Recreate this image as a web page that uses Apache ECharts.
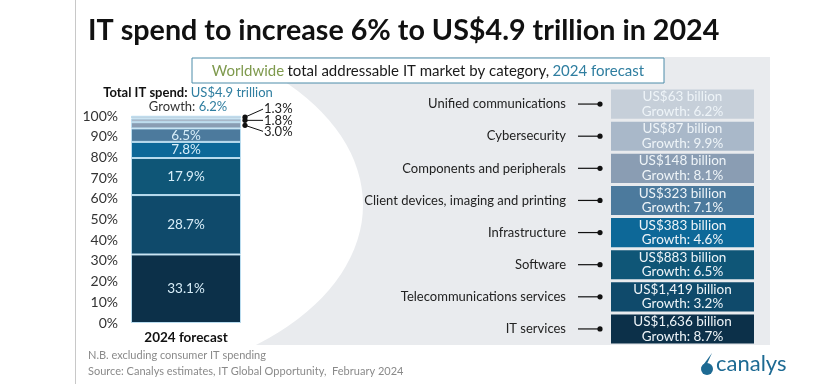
<!DOCTYPE html>
<html>
<head>
<meta charset="utf-8">
<script src="https://cdn.jsdelivr.net/npm/echarts@6/dist/echarts.min.js"></script>
<style>html,body{margin:0;padding:0;background:#fff}#c{width:840px;height:384px}</style>
</head>
<body>
<div id="c"></div>
<script>
// ---- data ----
const categories = ['Unified communications','Cybersecurity','Components and peripherals','Client devices, imaging and printing','Infrastructure','Software','Telecommunications services','IT services'];
const spendBillion = [63, 87, 148, 323, 383, 883, 1419, 1636];
const growthPct = [6.2, 9.9, 8.1, 7.1, 4.6, 6.5, 3.2, 8.7];
const sharePct = [1.3, 1.8, 3.0, 6.5, 7.8, 17.9, 28.7, 33.1];
const categoryColors = ['#c6cfd9','#a9b8c9','#8a9db3','#4c7a9d','#0d6898','#0f5677','#0f4a6b','#0c3049'];
const barCategory = ['2024 forecast'];
const percentTicks = [0,10,20,30,40,50,60,70,80,90,100];
const totalSpend = 'US$4.9 trillion';
const totalGrowth = '6.2%';

const FONT = 'Lato';
const chart = echarts.init(document.getElementById('c'), null, {renderer:'canvas'});

// stacked series bottom-up
const stackSeries = [];
for (let i = categories.length - 1; i >= 0; i--) {
  stackSeries.push({
    type: 'bar', name: categories[i], stack: 'total', xAxisIndex: 0, yAxisIndex: 0,
    data: [sharePct[i]], barWidth: '100%',
    itemStyle: {color: categoryColors[i], borderColor: '#b9dcef', borderWidth: 1},
    label: {show: sharePct[i] >= 5, position: 'inside', color: '#d8eef9', fontFamily: FONT, fontSize: 13.5,
      formatter: p => p.value.toFixed(1) + '%'}
  });
}
// small segments leader labels
const smallIdx = [];
sharePct.forEach((v, i) => { if (v < 5) smallIdx.push(i); });
function cumMid(i) {
  let s = 0;
  for (let k = categories.length - 1; k > i; k--) s += sharePct[k];
  return s + sharePct[i] / 2;
}
const labelShift = [-8, 0, 6];
const leaderSeries = {
  type: 'custom', xAxisIndex: 0, yAxisIndex: 0, z: 5,
  data: smallIdx.map(i => [0, cumMid(i), sharePct[i]]),
  renderItem: (params, api) => {
    const p = api.coord([api.value(0), api.value(1)]);
    const band = api.size([1, 0])[0];
    const x0 = p[0] + band / 2 + 4;
    const ly = p[1] + labelShift[params.dataIndex];
    return {type: 'group', children: [
      {type: 'circle', shape: {cx: x0, cy: p[1], r: 2.6}, style: {fill: '#111'}},
      {type: 'line', shape: {x1: x0, y1: p[1], x2: x0 + 18, y2: ly}, style: {stroke: '#111', lineWidth: 1}},
      {type: 'text', style: {x: x0 + 19, y: ly, text: api.value(2).toFixed(1) + '%', fill: '#222', font: '13px ' + FONT, verticalAlign: 'middle'}}
    ]};
  }
};
// right side boxes
const boxSeries = {
  type: 'custom', xAxisIndex: 1, yAxisIndex: 1, z: 5,
  data: categories.map((c, i) => [c, spendBillion[i], growthPct[i]]),
  encode: {y: 0, x: 1},
  renderItem: (params, api) => {
    const i = params.dataIndex;
    const cs = params.coordSys;
    const y = api.coord([0, i])[1];
    const h = api.size([0, 1])[1];
    const bx = cs.x + 33, bw = cs.x + cs.width - bx;
    return {type: 'group', children: [
      {type: 'line', shape: {x1: cs.x, y1: y, x2: cs.x + 22, y2: y}, style: {stroke: '#111', lineWidth: 1.2}},
      {type: 'circle', shape: {cx: cs.x + 22, cy: y, r: 2.6}, style: {fill: '#111'}},
      {type: 'rect', shape: {x: bx, y: y - h / 2 + 1.5, width: bw, height: h - 3}, style: {fill: categoryColors[i]}},
      {type: 'text', style: {x: bx + bw / 2, y: y, align: 'center', verticalAlign: 'middle', lineHeight: 14.5,
        text: 'US$' + spendBillion[i].toLocaleString('en-US') + ' billion\nGrowth: ' + growthPct[i].toFixed(1) + '%',
        fill: '#eef4f8', font: '13.5px ' + FONT}}
    ]};
  }
};

const option = {
  animation: false,
  textStyle: {fontFamily: FONT},
  grid: [
    {left: 131, top: 116, width: 110, height: 207},
    {left: 578, top: 88, width: 176, height: 257}
  ],
  xAxis: [
    {type: 'category', gridIndex: 0, data: barCategory, axisLine: {show: false}, axisTick: {show: false},
     axisLabel: {margin: 8, color: '#111', fontWeight: 'bold', fontSize: 13.5, fontFamily: FONT}},
    {type: 'value', gridIndex: 1, show: false}
  ],
  yAxis: [
    {type: 'value', gridIndex: 0, min: 0, max: 100, interval: 10, splitLine: {show: false},
     axisLine: {show: false}, axisTick: {show: false},
     axisLabel: {margin: 13, color: '#333', fontSize: 14, fontFamily: FONT,
       formatter: v => percentTicks.indexOf(v) >= 0 ? v + '%' : ''}},
    {type: 'category', gridIndex: 1, data: categories, inverse: true, axisLine: {show: false}, axisTick: {show: false},
     axisLabel: {margin: 12, color: '#222', fontSize: 13, fontFamily: FONT}}
  ],
  graphic: [
    {type: 'rect', z: -20, shape: {x: 75, y: 57, width: 695, height: 288}, style: {fill: '#e9ebee'}},
    {type: 'circle', z: -19, x: 75, y: 205, scaleX: 1.6, shape: {cx: 0, cy: 0, r: 180}, style: {fill: '#ffffff'}},
    {type: 'rect', z: -18, shape: {x: 0, y: 0, width: 75, height: 384}, style: {fill: '#ffffff'}},
    {type: 'line', z: -17, shape: {x1: 75.5, y1: 0, x2: 75.5, y2: 384}, style: {stroke: '#c8c8c8', lineWidth: 1}},
    {type: 'text', z: 10, style: {x: 88, y: 31, text: 'IT spend to increase 6% to US$4.9 trillion in 2024', font: 'bold 28.7px ' + FONT, fill: '#111', verticalAlign: 'middle'}},
    {type: 'rect', z: 10, shape: {x: 192, y: 58, width: 472, height: 25}, style: {fill: '#fff', stroke: '#4d8ca9', lineWidth: 1}},
    {type: 'text', z: 11, style: {x: 428, y: 71, align: 'center', verticalAlign: 'middle',
      text: '{g|Worldwide} {k|total addressable IT market by category,} {b|2024 forecast}',
      rich: {g: {fill: '#7f9a4e', font: '15px ' + FONT}, k: {fill: '#1a1a1a', font: '15px ' + FONT}, b: {fill: '#2f7ea0', font: '15px ' + FONT}}}},
    {type: 'text', z: 10, style: {x: 188, y: 93, align: 'center', verticalAlign: 'middle',
      text: '{a|Total IT spend:} {b|' + totalSpend + '}',
      rich: {a: {fill: '#111', font: 'bold 13px ' + FONT}, b: {fill: '#2f7ea0', font: '13px ' + FONT}}}},
    {type: 'text', z: 10, style: {x: 188, y: 107, align: 'center', verticalAlign: 'middle',
      text: '{a|Growth:} {b|' + totalGrowth + '}',
      rich: {a: {fill: '#333', font: '13px ' + FONT}, b: {fill: '#2f7ea0', font: '13px ' + FONT}}}},
    {type: 'text', z: 10, style: {x: 88, y: 355, text: 'N.B. excluding consumer IT spending', fill: '#8a8a8a', font: '11px ' + FONT, verticalAlign: 'middle'}},
    {type: 'text', z: 10, style: {x: 88, y: 371, text: 'Source: Canalys estimates, IT Global Opportunity,  February 2024', fill: '#8a8a8a', font: '11px ' + FONT, verticalAlign: 'middle'}},
    {type: 'sector', z: 10, shape: {cx: 707, cy: 369, r0: 0, r: 6, startAngle: 0, endAngle: Math.PI * 2}, style: {fill: '#1d6a93'}},
    {type: 'polygon', z: 10, shape: {points: [[701, 368], [712, 353], [706, 366]]}, style: {fill: '#1d6a93'}},
    {type: 'text', z: 10, style: {x: 716, y: 364, text: 'canalys', fill: '#1d6a93', font: '22px ' + FONT, verticalAlign: 'middle'}}
  ],
  series: stackSeries.concat([leaderSeries, boxSeries])
};
chart.setOption(option);
</script>
</body>
</html>
